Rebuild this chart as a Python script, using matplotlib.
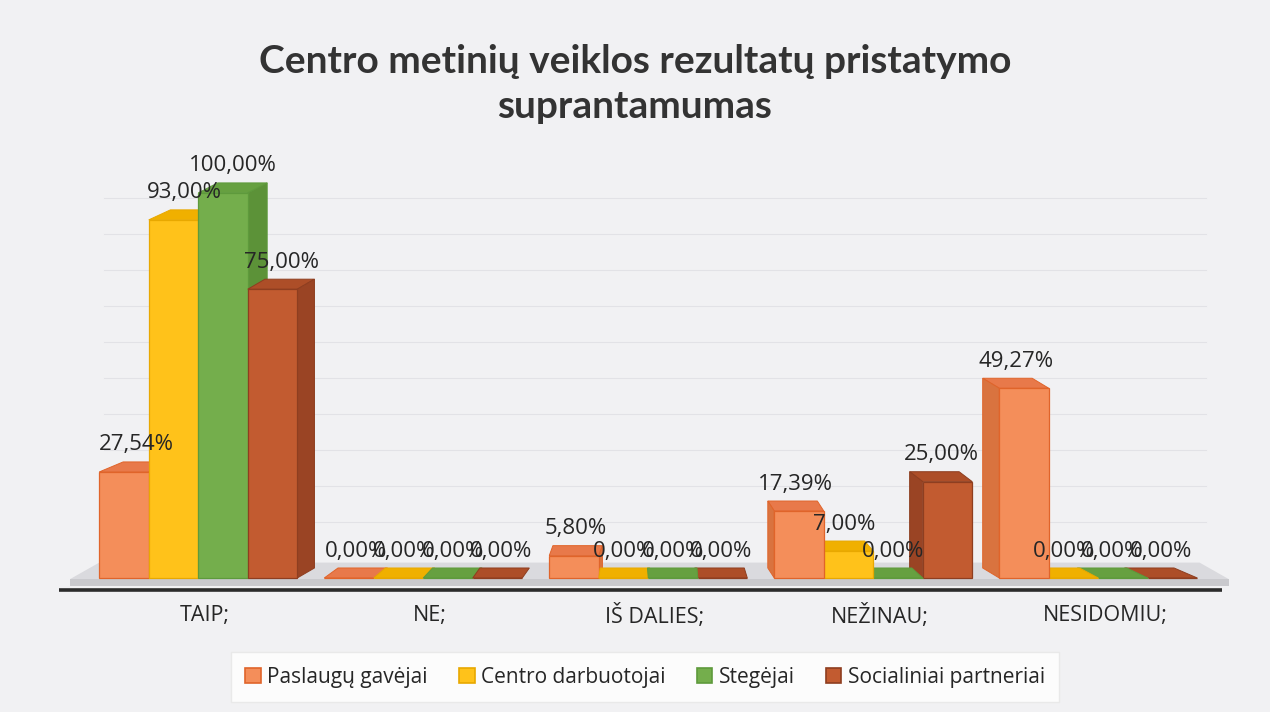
import matplotlib
matplotlib.use("Agg")
import matplotlib.pyplot as plt
from matplotlib.patches import Polygon, Patch

categories = ["TAIP;", "NE;", "IŠ DALIES;", "NEŽINAU;", "NESIDOMIU;"]
series = ["Paslaugų gavėjai", "Centro darbuotojai", "Stegėjai", "Socialiniai partneriai"]
paslaugu_gavejai = [27.54, 0.00, 5.80, 17.39, 49.27]
centro_darbuotojai = [93.00, 0.00, 0.00, 7.00, 0.00]
stegejai = [100.00, 0.00, 0.00, 0.00, 0.00]
socialiniai_partneriai = [75.00, 0.00, 0.00, 25.00, 0.00]
title = "Centro metinių veiklos rezultatų pristatymo\nsuprantamumas"

values = [paslaugu_gavejai, centro_darbuotojai, stegejai, socialiniai_partneriai]
front_colors = ["#F48E5A", "#FFC21A", "#74AE4C", "#C25B30"]
side_colors = ["#D9733F", "#E0A600", "#5C9238", "#9A4424"]
top_colors = ["#E8794A", "#F0B000", "#66A040", "#AD4E28"]
edge_colors = ["#E0642A", "#E8A800", "#5E9A3C", "#8E3E20"]

plt.rcParams["font.family"] = ["Open Sans", "DejaVu Sans"]

fig = plt.figure(figsize=(12.7, 7.12), dpi=100)
fig.patch.set_facecolor("#F1F1F3")
ax = fig.add_axes([0, 0, 1, 1])
ax.set_xlim(-0.911, 4.733)
ax.set_ylim(-34.8, 150.1)
ax.axis("off")

# back wall gridlines (slightly compressed by perspective)
for k in range(1, 11):
    ax.plot([-0.45, 4.45], [5.2 + k * 9.35] * 2, color="#E2E2E6", lw=0.8, zorder=0)

# floor
ax.add_patch(Polygon([(-0.6, -0.3), (4.55, -0.3), (4.42, 4.0), (-0.47, 4.0)],
                     closed=True, facecolor="#DADADE", edgecolor="none", zorder=1))
ax.add_patch(Polygon([(-0.6, -2.2), (4.55, -2.2), (4.55, -0.3), (-0.6, -0.3)],
                     closed=True, facecolor="#C9C9CD", edgecolor="none", zorder=1))
ax.plot([-0.65, 4.52], [-3.0, -3.0], color="#2B2B2B", lw=2.6, zorder=2,
        solid_capstyle="butt")

w = 0.22
dy = 2.6
center = 2.0
for i, vals in enumerate(values):
    for j, h in enumerate(vals):
        x = j + (i - 1.5) * w - 0.03
        dx = 0.09 * (center - x) / 2.0
        z = 10 - abs(x - center)
        ax.bar(x, h, width=w, color=front_colors[i], edgecolor=edge_colors[i],
               linewidth=0.9, zorder=z + 0.02)
        ax.add_patch(Polygon([(x - w / 2, h), (x + w / 2, h),
                              (x + w / 2 + dx, h + dy), (x - w / 2 + dx, h + dy)],
                             closed=True, facecolor=top_colors[i],
                             edgecolor=edge_colors[i], lw=0.7, zorder=z))
        sx = x + w / 2 if dx > 0 else x - w / 2
        if h > 0:
            ax.add_patch(Polygon([(sx, 0), (sx, h), (sx + dx, h + dy), (sx + dx, dy)],
                                 closed=True, facecolor=side_colors[i],
                                 edgecolor=edge_colors[i], lw=0.7, zorder=z))
        label = f"{h:.2f}%".replace(".", ",")
        ax.text(x + dx / 2, h + 7.0, label, ha="center", va="center",
                fontsize=16, color="#262626", zorder=20)

for j, c in enumerate(categories):
    ax.text(j, -9.8, c, ha="center", va="center", fontsize=15.5, color="#262626")

fig.text(0.5, 1 - 84 / 712, title, ha="center", va="center", fontsize=28,
         fontweight="bold", color="#333333", linespacing=1.35,
         family=["Lato", "DejaVu Sans"])

handles = [Patch(facecolor=front_colors[i], edgecolor=edge_colors[i], lw=1.2)
           for i in range(4)]
leg = fig.legend(handles, series, loc="center", ncol=4,
                 bbox_to_anchor=(645 / 1270, 1 - 677 / 712), frameon=True,
                 fontsize=15, handlelength=0.75, handleheight=0.75,
                 handletextpad=0.3, columnspacing=1.5, borderpad=0.4)
leg.get_frame().set_facecolor("white")
leg.get_frame().set_edgecolor("#E6E6E6")
leg.get_frame().set_boxstyle("square")
for t in leg.get_texts():
    t.set_color("#262626")

fig.savefig("out.png", dpi=100, facecolor=fig.get_facecolor())
